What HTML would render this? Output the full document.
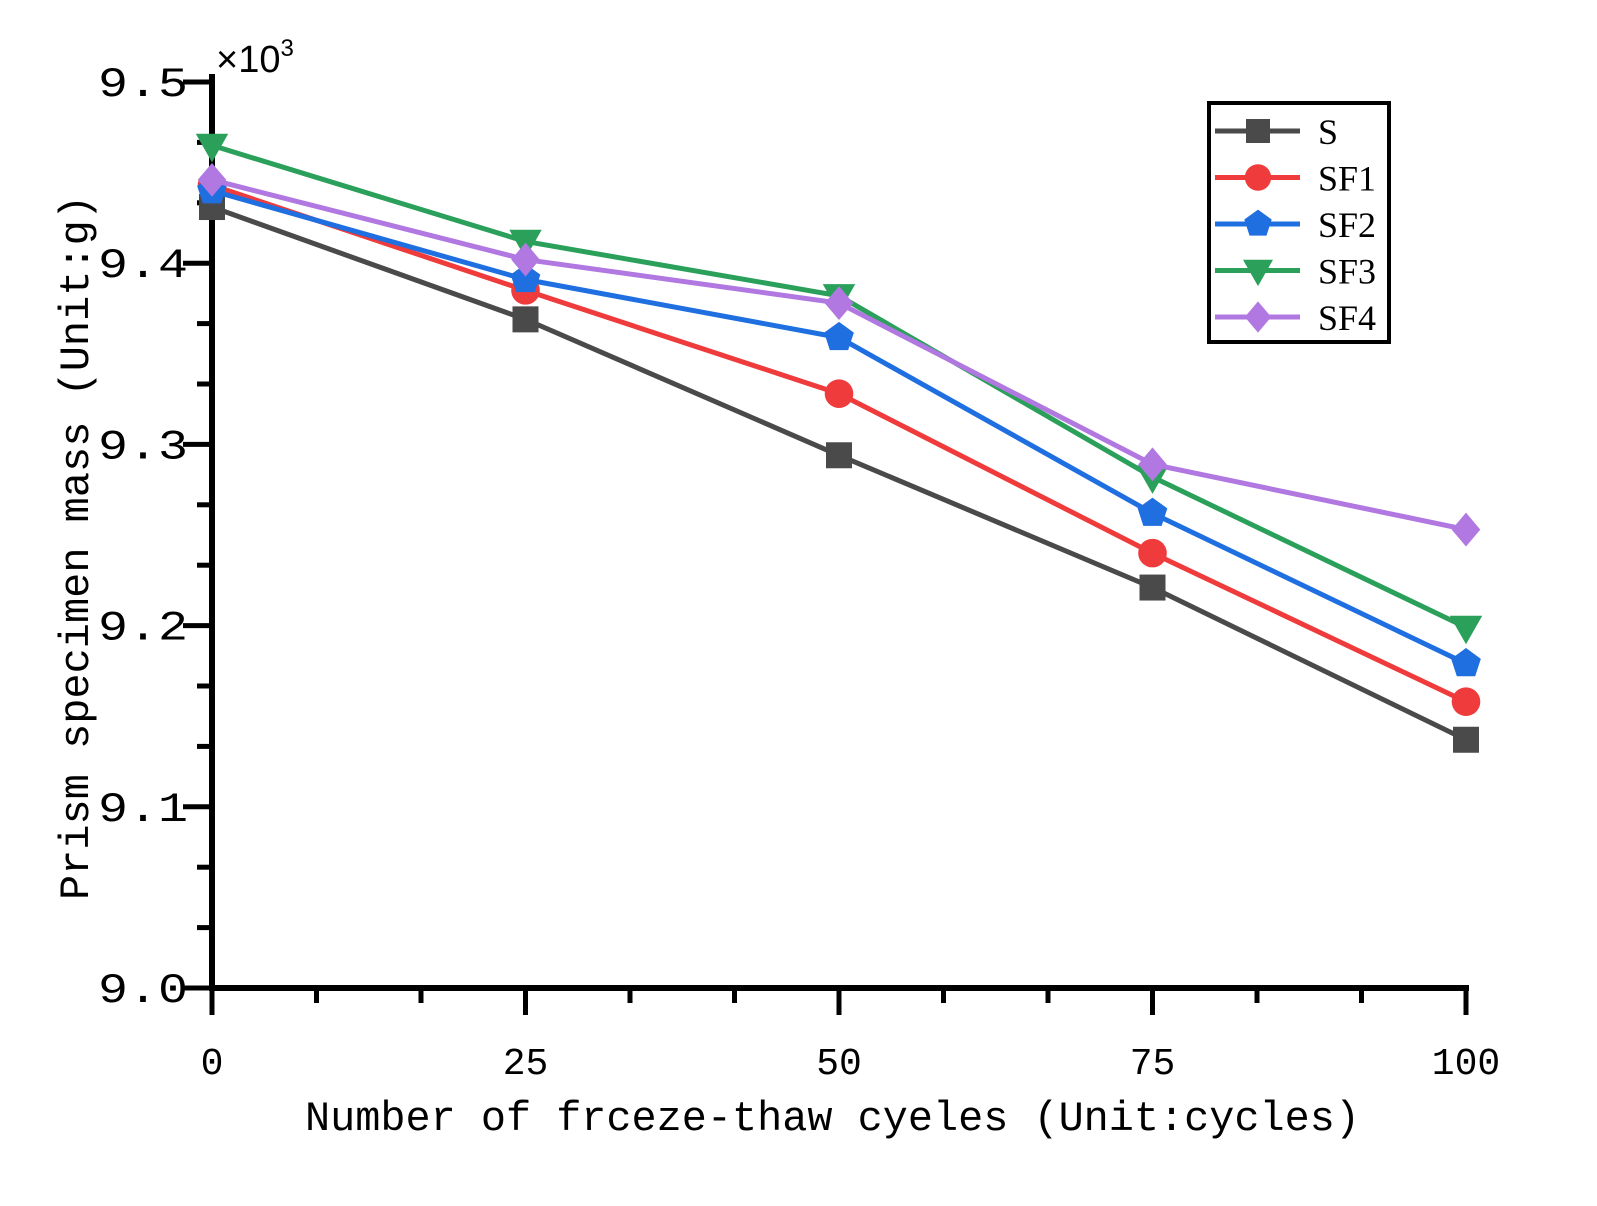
<!DOCTYPE html>
<html><head><meta charset="utf-8"><style>
html,body{margin:0;padding:0;background:#fff}
svg{display:block}
</style></head><body>
<svg id="chart" width="1597" height="1206" viewBox="0 0 1597 1206" xmlns="http://www.w3.org/2000/svg">
<g id="axes"></g><g id="series"></g><g id="legend"></g>
</svg>
<script>
const categories=[0,25,50,75,100];
const sS=[9.431,9.369,9.294,9.221,9.137];
const sSF1=[9.443,9.385,9.328,9.240,9.158];
const sSF2=[9.440,9.391,9.359,9.262,9.179];
const sSF3=[9.465,9.412,9.382,9.282,9.199];
const sSF4=[9.446,9.402,9.378,9.289,9.253];
const seriesNames=["S","SF1","SF2","SF3","SF4"];
const yTicks=["9.0","9.1","9.2","9.3","9.4","9.5"];
const xTicks=["0","25","50","75","100"];
const NS="http://www.w3.org/2000/svg";
const X0=212,X1=1466,Y0=988,Y1=82;
const xs=v=>X0+(v-0)/(100-0)*(X1-X0);
const ys=v=>Y0-(v-9.0)/(0.5)*(Y0-Y1);
function mk(tag,attrs,parent){const e=document.createElementNS(NS,tag);for(const k in attrs)e.setAttribute(k,attrs[k]);parent.appendChild(e);return e;}
const axes=document.getElementById('axes');
for(let i=0;i<=15;i++){const v=9.0+i*0.5/15;const y=ys(v);const major=i%3===0;
 const t=mk('line',{x1:major?183:197,x2:X0,y1:y,y2:y,stroke:'#000','stroke-width':5},axes);
 
 }
for(let i=0;i<=12;i++){const v=i*100/12;const x=xs(v);const major=i%3===0;
 const t=mk('line',{x1:x,x2:x,y1:Y0,y2:major?1015:1003,stroke:'#000','stroke-width':5},axes);
 
 }
const ya=mk('line',{x1:X0,x2:X0,y1:Y1-8,y2:Y0+2,stroke:'#000','stroke-width':6},axes);

const xa=mk('line',{x1:X0-3,x2:X1+3,y1:Y0,y2:Y0,stroke:'#000','stroke-width':6},axes);

const mono='"Liberation Mono","Noto Sans CJK SC",monospace';
yTicks.forEach((l,i)=>{const t=mk('text',{x:188,y:ys(+l)+14,'text-anchor':'end','font-family':mono,'font-size':42,textLength:90,lengthAdjust:'spacingAndGlyphs'},axes);t.textContent=l;
 });
xTicks.forEach((l,i)=>{const t=mk('text',{x:xs(categories[i]),y:1074,'text-anchor':'middle','font-family':mono,'font-size':38},axes);t.textContent=l;
 });
const xt=mk('text',{x:305,y:1130,'font-family':mono,'font-size':42,textLength:1055,lengthAdjust:'spacingAndGlyphs'},axes);
xt.textContent='Number of frceze-thaw cyeles (Unit:cycles)';

const yt=mk('text',{x:0,y:0,transform:'translate(88,900) rotate(-90)','font-family':mono,'font-size':42,textLength:705,lengthAdjust:'spacingAndGlyphs'},axes);
yt.textContent='Prism specimen mass (Unit:g)';

const mul=mk('text',{x:216,y:72,'font-family':'"Liberation Sans",sans-serif','font-size':38},axes);
mul.innerHTML='×10<tspan font-size="24" dy="-16">3</tspan>';

const data=[sS,sSF1,sSF2,sSF3,sSF4];
const colors=['#4a4a4a','#ef3b3b','#1f6fe0','#2aa05a','#b078e0'];
const shapes=['square','circle','pentagon','tri','diamond'];
function marker(shape,x,y,c,s,parent){
 let e;
 if(shape==='square')e=mk('rect',{x:x-s,y:y-s,width:2*s,height:2*s,fill:c},parent);
 else if(shape==='circle')e=mk('circle',{cx:x,cy:y,r:s*1.1,fill:c},parent);
 else if(shape==='pentagon'){let p=[];for(let k=0;k<5;k++){const a=-Math.PI/2+k*2*Math.PI/5;p.push((x+s*1.2*Math.cos(a))+','+(y+s*1.2*Math.sin(a)));}e=mk('polygon',{points:p.join(' '),fill:c},parent);}
 else if(shape==='tri')e=mk('polygon',{points:`${x-s*1.25},${y-s*0.9} ${x+s*1.25},${y-s*0.9} ${x},${y+s*1.3}`,fill:c},parent);
 else e=mk('polygon',{points:`${x},${y-s*1.3} ${x+s*1.1},${y} ${x},${y+s*1.3} ${x-s*1.1},${y}`,fill:c},parent);
 return e;}
const sg=document.getElementById('series');
data.forEach((d,si)=>{
 const g=mk('g',{},sg);
 const pl=mk('polyline',{points:d.map((v,i)=>xs(categories[i])+','+ys(v)).join(' '),fill:'none',stroke:colors[si],'stroke-width':5,'stroke-linejoin':'round'},g);
 
 d.forEach((v,i)=>{const m=marker(shapes[si],xs(categories[i]),ys(v),colors[si],13,g);
  });
});
const lg=document.getElementById('legend');
const box=mk('rect',{x:1209,y:103,width:180,height:239,fill:'#fff',stroke:'#000','stroke-width':4},lg);

seriesNames.forEach((n,i)=>{const y=131+i*46.5;
 const g=mk('g',{},lg);
 mk('line',{x1:1215,x2:1300,y1:y,y2:y,stroke:colors[i],'stroke-width':5},g);
 marker(shapes[i],1258,y,colors[i],12,g);
 const t=mk('text',{x:1318,y:y+13,'font-family':'"Liberation Serif",serif','font-size':36},g);t.textContent=n;});
</script>
</body></html>
